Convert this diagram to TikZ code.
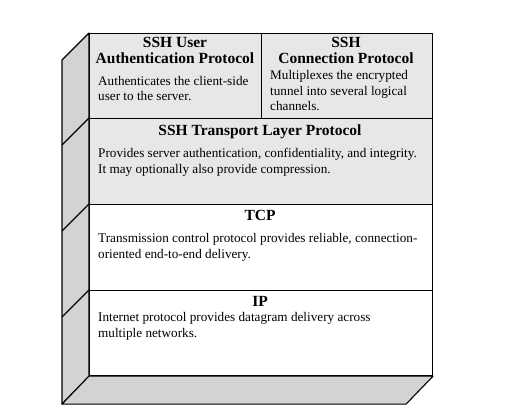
\documentclass[tikz,border=0pt]{standalone}
\usepackage{fontspec}
\setmainfont{Liberation Serif}
\definecolor{sidegray}{HTML}{D1D3D4}
\definecolor{sshgray}{HTML}{E6E7E8}
\tikzset{
  layer/.style={draw, line width=1.1pt, anchor=north west, inner sep=0pt},
  title/.style={font=\bfseries\fontsize{15.5}{16}\selectfont, inner sep=0pt, anchor=base, align=center},
  body/.style={font=\fontsize{13.2}{15.5}\selectfont, inner sep=0pt, anchor=base west, align=left}
}
\begin{document}
\begin{tikzpicture}[x=1pt,y=-1pt]
  \useasboundingbox (0,0) rectangle (512,411);
  % layers of the front face
  \node[layer, fill=sshgray, minimum width=172pt, minimum height=85pt] (user) at (89,33) {};
  \node[layer, fill=sshgray, minimum width=171pt, minimum height=85pt] (conn) at (261,33) {};
  \node[layer, fill=sshgray, minimum width=343pt, minimum height=86pt] (trans) at (89,118) {};
  \node[layer, fill=white, minimum width=343pt, minimum height=86pt] (tcp) at (89,204) {};
  \node[layer, fill=white, minimum width=343pt, minimum height=85pt] (ip) at (89,290) {};
  % side and bottom faces
  \draw[line width=1.1pt, fill=sidegray, line join=round]
    (user.north west) -- ++(-27,27) -- ([xshift=-27pt,yshift=-28pt]ip.south west) -- (ip.south west) -- cycle;
  \draw[line width=1.1pt, fill=sidegray, line join=round]
    (ip.south west) -- (ip.south east) -- ++(-27,28) -- ([xshift=-27pt,yshift=-28pt]ip.south west) -- cycle;
  \foreach \l in {trans, tcp, ip}
    \draw[line width=1.1pt] (\l.north west) -- ++(-27,27);
  % texts (base = last line)
  \node[title] (usertitle) at (175,63.3) {SSH User\\Authentication Protocol};
  \node[body] (usertext) at (98,101) {Authenticates the client-side\\user to the server.};
  \node[title] (conntitle) at (346,63.3) {SSH\\Connection Protocol};
  \node[body] (conntext) at (270,110.7) {Multiplexes the encrypted\\tunnel into several logical\\channels.};
  \node[title] (transtitle) at (260,136) {SSH Transport Layer Protocol};
  \node[body] (transtext) at (98,173.3) {Provides server authentication, confidentiality, and integrity.\\It may optionally also provide compression.};
  \node[title] (tcptitle) at (260,221) {TCP};
  \node[body] (tcptext) at (98,258.3) {Transmission control protocol provides reliable, connection-\\oriented end-to-end delivery.};
  \node[title] (iptitle) at (260,306.7) {IP};
  \node[body] (iptext) at (98,337.3) {Internet protocol provides datagram delivery across\\multiple networks.};
\end{tikzpicture}
\end{document}
